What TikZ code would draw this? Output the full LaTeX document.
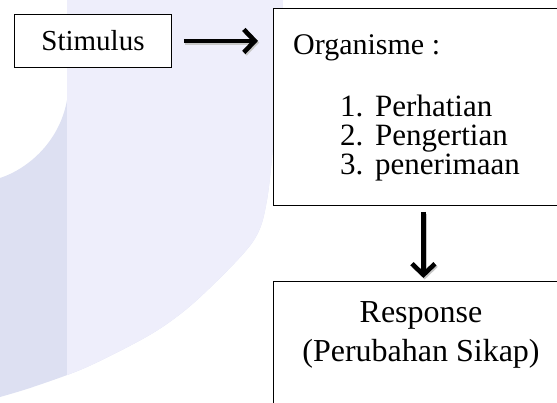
\documentclass[tikz,border=0pt]{standalone}
\usepackage{fontspec}
\setmainfont{Liberation Serif}
\usetikzlibrary{arrows.meta, positioning}
\definecolor{wmlight}{RGB}{238,238,251}
\definecolor{wmdark}{RGB}{221,224,242}
\newcommand{\boxfont}{\fontsize{30}{32}\selectfont}
\newcommand{\respfont}{\fontsize{32}{34}\selectfont}
\newcommand{\listfont}{\fontsize{31}{33}\selectfont}
\newcommand{\stimfont}{\fontsize{29}{31}\selectfont}
\newcommand{\wmshape}{(67,0) -- plot[smooth] coordinates {(283,0) (276,110) (267,200) (252,243) (197,300) (153,333) (87,367) (33,387) (0,397)} -- (0,178) .. controls (30,168) and (60,140) .. (67,100) -- cycle}

\begin{document}
\begin{tikzpicture}[x=1pt, y=-1pt,
    box/.style={draw, line width=0.9pt, inner sep=0pt},
    label/.style={inner sep=0pt},
    bigarrow/.style={line width=4.6pt, -{Straight Barb[length=11pt, width=23pt]}},
    arrowshade/.style={bigarrow, black!22, transform canvas={xshift=1.2pt, yshift=-1.6pt}}]
\useasboundingbox (0,0) rectangle (557,402);
\clip (0,0) rectangle (557,402);

% watermark in the background
\fill[wmdark] \wmshape;
\begin{scope}
\clip (67,0) rectangle (557,402);
\fill[wmlight] \wmshape;
\end{scope}

% boxes
\node[box, fill=white, minimum width=157pt, minimum height=53pt, anchor=north west, font=\stimfont] (stim) at (14,14) {Stimulus};
\node[box, fill=white, minimum width=300pt, minimum height=197pt, anchor=north west] (org) at (273,8) {};
\node[box, fill=white, minimum width=300pt, minimum height=150pt, below=75pt of org] (resp) {};

% texts in the boxes
\node[label, anchor=base west, font=\boxfont] (orgtitle) at (293,54) {Organisme :};
\foreach \i/\t/\y in {1/Perhatian/116, 2/Pengertian/145, 3/penerimaan/174} {
    \node[label, anchor=base west, font=\listfont] (num\i) at (340,\y) {\i.};
    \node[label, anchor=base west, font=\listfont] (item\i) at (375,\y) {\t};
}
\node[label, anchor=base, font=\respfont] (resptitle) at (421,322) {Response};
\node[label, anchor=base, font=\respfont] (respsub) at (421,361) {(Perubahan Sikap)};

% arrows
\draw[arrowshade, shorten <=12pt, shorten >=15pt] (stim.east) -- (stim.east -| org.west);
\draw[bigarrow, shorten <=12pt, shorten >=15pt] (stim.east) -- (stim.east -| org.west);
\draw[arrowshade, shorten <=6pt, shorten >=3pt] (org.south) -- (resp.north);
\draw[bigarrow, shorten <=6pt, shorten >=3pt] (org.south) -- (resp.north);
\end{tikzpicture}
\end{document}
